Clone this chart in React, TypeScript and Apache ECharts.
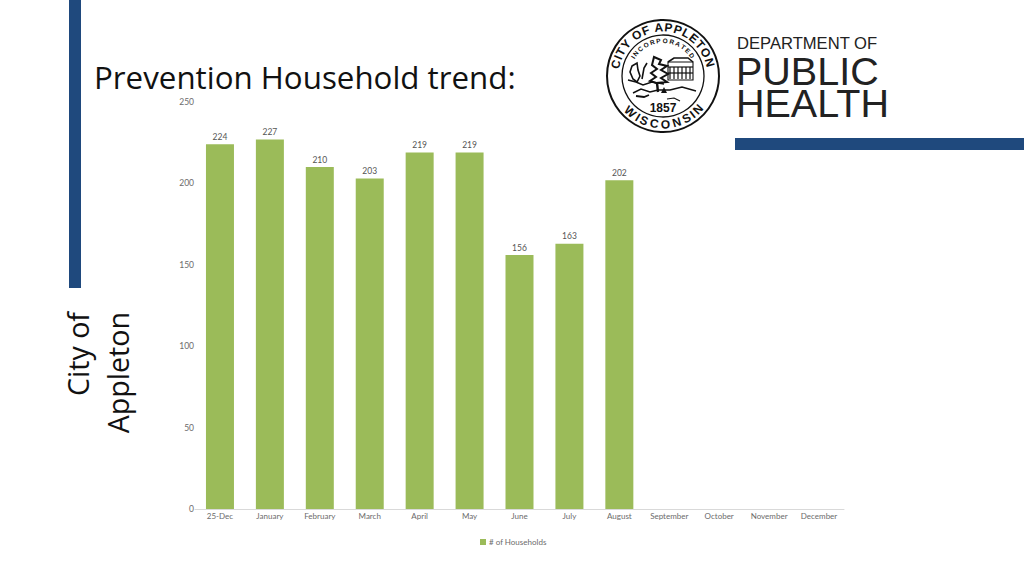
import React, { useEffect, useRef } from "react";
import * as echarts from "echarts";

const categories = ["25-Dec", "January", "February", "March", "April", "May", "June", "July", "August", "September", "October", "November", "December"];
const households = [224, 227, 210, 203, 219, 219, 156, 163, 202, null, null, null, null];
const seriesName = "# of Households";
const titleText = "Prevention Household trend:";
const sideLines = ["City of", "Appleton"];
const deptLines = ["DEPARTMENT OF", "PUBLIC", "HEALTH"];

const BLUE = "#1F497D";
const GREEN = "#9BBB59";
const GREY = "#6b6b6b";
const INK = "#111111";
const CX = 663;
const CY = 76;

function arcText(text: string, r: number, a0: number, a1: number, size: number, bottom: boolean) {
  const ctx = document.createElement("canvas").getContext("2d")!;
  ctx.font = `bold ${size}px "Liberation Sans"`;
  const chars = text.split("");
  const widths = chars.map((c) => ctx.measureText(c).width);
  const total = widths.reduce((a, b) => a + b, 0);
  let run = 0;
  return chars.map((ch, i) => {
    const mid = run + widths[i] / 2;
    run += widths[i];
    const deg = a0 + ((a1 - a0) * mid) / total;
    const t = (deg * Math.PI) / 180;
    return {
      type: "text",
      x: CX + r * Math.cos(t),
      y: CY - r * Math.sin(t),
      rotation: ((deg + (bottom ? 90 : -90)) * Math.PI) / 180,
      style: { text: ch, fill: INK, fontSize: size, fontWeight: "bold", fontFamily: "Liberation Sans", textAlign: "center", textVerticalAlign: "middle", lineHeight: size },
      silent: true,
    };
  });
}

function line(points: number[][], w = 1.2) {
  return { type: "polyline", shape: { points }, style: { stroke: INK, lineWidth: w, fill: "none" }, silent: true };
}

function sealElements() {
  const ring = (r: number, w: number) => ({ type: "circle", shape: { cx: CX, cy: CY, r }, style: { fill: "none", stroke: INK, lineWidth: w }, silent: true });
  const windows: any[] = [];
  for (let i = 0; i < 6; i++) {
    windows.push(line([[670 + i * 4, 67], [670 + i * 4, 79]], 1.2));
  }
  return [
    ring(56, 2),
    ring(41, 1.3),
    ...arcText("CITY OF APPLETON", 48.5, 172, 10, 12, false),
    ...arcText("INCORPORATED", 35.5, 150, 30, 6.5, false),
    ...arcText("WISCONSIN", 48.5, 219, 323, 12, true),
    { type: "text", x: CX, y: 108, style: { text: "1857", fill: INK, font: 'bold 12px "Liberation Sans"', textAlign: "center", textVerticalAlign: "middle", lineHeight: 12 }, silent: true },
    { type: "rect", shape: { x: 668, y: 62, width: 25, height: 18 }, style: { fill: "#ffffff", stroke: INK, lineWidth: 1.1 }, silent: true },
    line([[668, 62], [674, 58], [688, 58], [693, 62]], 1.6),
    line([[668, 67], [693, 67]], 1.2),
    line([[668, 73], [693, 73]], 1.2),
    ...windows,
    { type: "polygon", shape: { points: [[654, 57], [661, 60], [659, 64], [667, 66], [661, 70], [668, 74], [661, 78], [667, 82], [656, 83], [650, 81], [656, 77], [651, 73], [657, 69], [652, 65]] }, style: { fill: "#ffffff", stroke: INK, lineWidth: 2 }, silent: true },
    line([[657, 83], [658, 92]], 2.4),
    { type: "polygon", shape: { points: [[632, 66], [637, 63], [638, 70], [640, 76], [637, 82], [633, 79], [630, 72]] }, style: { fill: "#ffffff", stroke: INK, lineWidth: 1.6 }, silent: true },
    line([[642, 79], [644, 68], [647, 63]], 1.6),
    line([[628, 80], [636, 82], [643, 85], [652, 82], [664, 84]], 1.4),
    line([[633, 93], [641, 89], [650, 92], [658, 90], [670, 90], [682, 87], [696, 91]], 1.4),
    line([[636, 96], [644, 97], [649, 95]], 1.8),
    line([[667, 99], [674, 98], [680, 101]], 1.2),
    { type: "polygon", shape: { points: [[664, 87], [667, 93], [661, 93]] }, style: { fill: INK }, silent: true },
  ];
}

export default function App() {
  const ref = useRef<HTMLDivElement>(null);
  useEffect(() => {
    const chart = echarts.init(ref.current!, null, { renderer: "svg" });
    chart.setOption({
      animation: false,
      backgroundColor: "#ffffff",
      grid: { left: 195, right: 180, top: 102, bottom: 67, containLabel: false },
      legend: {
        bottom: 25,
        left: 475,
        itemWidth: 6,
        itemHeight: 6,
        itemGap: 3,
        icon: "rect",
        textStyle: { color: GREY, fontFamily: "Lato", fontSize: 8, padding: [0, 0, 0, -2] },
        data: [seriesName],
      },
      xAxis: {
        type: "category",
        data: categories,
        axisTick: { show: false },
        axisLine: { lineStyle: { color: "#D9D9D9", width: 1 } },
        axisLabel: { color: GREY, fontFamily: "Lato", fontSize: 8, margin: 3, interval: 0 },
      },
      yAxis: {
        type: "value",
        min: 0,
        max: 250,
        interval: 50,
        axisLine: { show: false },
        axisTick: { show: false },
        splitLine: { show: false },
        axisLabel: { color: GREY, fontFamily: "Lato", fontSize: 8.5, margin: 1 },
      },
      series: [
        {
          name: seriesName,
          type: "bar",
          data: households,
          barWidth: 28,
          itemStyle: { color: GREEN },
          label: { show: true, position: "top", distance: 3, color: "#555555", fontFamily: "Lato", fontSize: 8.5 },
        },
      ],
      graphic: [
        { type: "rect", shape: { x: 69, y: 0, width: 12, height: 288 }, style: { fill: BLUE }, silent: true },
        { type: "rect", shape: { x: 735, y: 138, width: 289, height: 12 }, style: { fill: BLUE }, silent: true },
        { type: "text", x: 94, y: 77, style: { text: titleText, fill: INK, font: '31.3px "Open Sans"', textAlign: "left", textVerticalAlign: "middle" }, silent: true },
        { type: "text", x: 77, y: 312, rotation: Math.PI / 2, style: { text: sideLines[0], fill: INK, font: '28.6px "Open Sans"', textAlign: "right", textVerticalAlign: "middle" }, silent: true },
        { type: "text", x: 117, y: 312, rotation: Math.PI / 2, style: { text: sideLines[1], fill: INK, font: '28.6px "Open Sans"', textAlign: "right", textVerticalAlign: "middle" }, silent: true },
        { type: "text", x: 737, y: 43, style: { text: deptLines[0], fill: "#222222", font: '16.6px "Liberation Sans"', textAlign: "left", textVerticalAlign: "middle", lineHeight: 17 }, silent: true },
        { type: "text", x: 736, y: 71, style: { text: deptLines[1], fill: "#222222", font: '39.5px "Liberation Sans"', textAlign: "left", textVerticalAlign: "middle", lineHeight: 30 }, silent: true },
        { type: "text", x: 736, y: 103, style: { text: deptLines[2], fill: "#222222", font: '39.5px "Liberation Sans"', textAlign: "left", textVerticalAlign: "middle", lineHeight: 30 }, silent: true },
        ...sealElements(),
      ],
    });
    return () => chart.dispose();
  }, []);
  return <div ref={ref} style={{ position: "fixed", left: 0, top: 0, width: 1024, height: 576 }} />;
}
